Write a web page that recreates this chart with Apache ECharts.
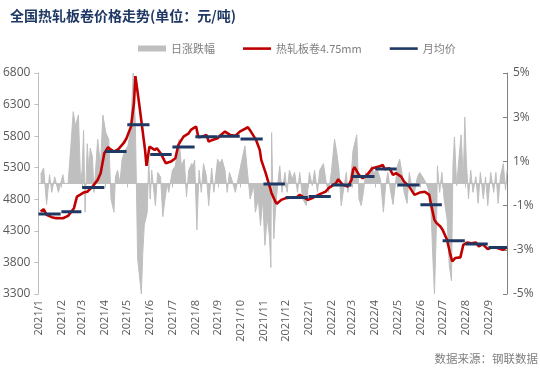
<!DOCTYPE html>
<html><head><meta charset="utf-8">
<script src="https://cdn.jsdelivr.net/npm/echarts@6/dist/echarts.min.js"></script>
<style>html,body{margin:0;padding:0;background:#fff}#c{width:540px;height:383px}</style>
</head><body><div id="c"></div>
<script>
// ---- data ----
const priceDates = ['2021-01-04','2021-01-08','2021-01-12','2021-01-19','2021-01-25','2021-02-03','2021-02-10','2021-02-18','2021-02-22','2021-02-26',
'2021-03-03','2021-03-08','2021-03-15','2021-03-22','2021-03-26','2021-03-31','2021-04-05','2021-04-08','2021-04-13','2021-04-19','2021-04-26','2021-04-30',
'2021-05-06','2021-05-10','2021-05-12','2021-05-13','2021-05-17','2021-05-21','2021-05-25','2021-05-27','2021-05-31','2021-06-07','2021-06-10','2021-06-15','2021-06-22','2021-06-29',
'2021-07-05','2021-07-09','2021-07-16','2021-07-23','2021-07-26','2021-07-30','2021-08-02','2021-08-05','2021-08-10','2021-08-16','2021-08-19','2021-08-24','2021-08-31',
'2021-09-06','2021-09-10','2021-09-17','2021-09-24','2021-09-30','2021-10-11','2021-10-15','2021-10-22','2021-10-27','2021-10-29','2021-11-04','2021-11-08','2021-11-12','2021-11-17','2021-11-19','2021-11-25',
'2021-12-01','2021-12-08','2021-12-15','2021-12-20','2021-12-27','2021-12-31','2022-01-07','2022-01-17','2022-01-24','2022-01-28','2022-02-07','2022-02-10','2022-02-16','2022-02-23','2022-02-28',
'2022-03-02','2022-03-04','2022-03-10','2022-03-15','2022-03-21','2022-03-28','2022-04-06','2022-04-11','2022-04-14','2022-04-20','2022-04-25','2022-04-29',
'2022-05-06','2022-05-10','2022-05-17','2022-05-24','2022-05-31','2022-06-07','2022-06-13','2022-06-15','2022-06-20','2022-06-23','2022-06-28',
'2022-07-01','2022-07-07','2022-07-11','2022-07-14','2022-07-18','2022-07-25','2022-07-29','2022-08-03','2022-08-09','2022-08-15','2022-08-19','2022-08-24','2022-08-31',
'2022-09-06','2022-09-13','2022-09-20','2022-09-26'];
const priceValues = [4606,4643,4554,4517,4501,4500,4538,4659,4843,4870,
4906,4920,5001,5107,5213,5530,5624,5593,5555,5593,5688,5767,
5951,6320,6750,6663,6320,5950,5582,5329,5634,5582,5609,5530,5371,5397,
5450,5661,5792,5845,5900,5930,5951,5783,5790,5819,5713,5740,5767,
5835,5872,5819,5805,5872,5941,5872,5740,5582,5424,5213,5055,4897,4764,4728,4791,
4818,4830,4825,4870,4818,4791,4825,4886,4922,4976,5055,5118,5028,5001,5107,
5265,5308,5186,5134,5186,5292,5318,5345,5276,5292,5186,5213,
5160,5080,5001,4870,4906,4920,4870,4739,4474,4422,4368,
4316,4158,3948,3815,3869,3880,4079,4115,4105,4115,4052,4090,4010,
4040,4030,4000,4040];

const changeDates = ['2021-01-04','2021-01-08','2021-01-12','2021-01-14','2021-01-16','2021-01-19','2021-01-23','2021-01-28','2021-02-03','2021-02-05','2021-02-10','2021-02-12','2021-02-14','2021-02-17','2021-02-20','2021-02-24','2021-02-27',
'2021-03-01','2021-03-03','2021-03-05','2021-03-08','2021-03-10','2021-03-12','2021-03-15','2021-03-17','2021-03-19','2021-03-22','2021-03-24','2021-03-26','2021-03-29',
'2021-04-02','2021-04-06','2021-04-07','2021-04-09','2021-04-13','2021-04-15','2021-04-18','2021-04-21','2021-04-24','2021-04-28',
'2021-05-02','2021-05-06','2021-05-09','2021-05-11','2021-05-12','2021-05-15','2021-05-17','2021-05-20','2021-05-22','2021-05-24','2021-05-28','2021-05-30',
'2021-06-01','2021-06-03','2021-06-08','2021-06-11','2021-06-15','2021-06-18','2021-06-21','2021-06-24','2021-06-26',
'2021-07-01','2021-07-05','2021-07-10','2021-07-13','2021-07-17','2021-07-20','2021-07-23','2021-07-27','2021-07-29','2021-07-31',
'2021-08-03','2021-08-06','2021-08-09','2021-08-12','2021-08-16','2021-08-19','2021-08-23','2021-08-26','2021-08-31',
'2021-09-03','2021-09-06','2021-09-10','2021-09-13','2021-09-16','2021-09-19','2021-09-24','2021-09-27','2021-09-30',
'2021-10-05','2021-10-07','2021-10-11','2021-10-14','2021-10-19','2021-10-21','2021-10-25','2021-10-28','2021-10-31',
'2021-11-03','2021-11-06','2021-11-09','2021-11-11','2021-11-12','2021-11-15','2021-11-17','2021-11-20','2021-11-23','2021-11-26','2021-11-30',
'2021-12-03','2021-12-06','2021-12-10','2021-12-13','2021-12-17','2021-12-20','2021-12-24','2021-12-29',
'2022-01-02','2022-01-06','2022-01-09','2022-01-13','2022-01-16','2022-01-21','2022-01-25','2022-01-28',
'2022-02-01','2022-02-05','2022-02-08','2022-02-11','2022-02-14','2022-02-18','2022-02-21','2022-02-23','2022-02-28',
'2022-03-02','2022-03-07','2022-03-10','2022-03-13','2022-03-16','2022-03-19','2022-03-23','2022-03-27','2022-03-30',
'2022-04-04','2022-04-08','2022-04-12','2022-04-15','2022-04-18','2022-04-22','2022-04-25','2022-04-28',
'2022-05-01','2022-05-04','2022-05-07','2022-05-10','2022-05-14','2022-05-17','2022-05-20','2022-05-24','2022-05-28','2022-05-31',
'2022-06-04','2022-06-09','2022-06-12','2022-06-15','2022-06-18','2022-06-20','2022-06-23','2022-06-24','2022-06-27','2022-06-30',
'2022-07-03','2022-07-07','2022-07-10','2022-07-13','2022-07-15','2022-07-17','2022-07-20','2022-07-23','2022-07-26','2022-07-29','2022-07-31',
'2022-08-02','2022-08-05','2022-08-08','2022-08-11','2022-08-15','2022-08-18','2022-08-21','2022-08-25','2022-08-28','2022-08-31',
'2022-09-04','2022-09-08','2022-09-11','2022-09-14','2022-09-17','2022-09-21','2022-09-24','2022-09-26'];
const changeValues = [0.4,0.7,-0.95,-0.27,0.4,-0.4,0.3,-0.4,0.4,0,0,0,1.8,3.25,2.6,3.1,0,
0.6,2.4,-1.3,1.8,0.6,1.6,1.2,-0.4,0.5,2.0,1.4,0.9,3.1,
2.3,2.0,1.1,-0.7,-1.3,0.3,0.6,0,1.1,1.5,
1.7,2.6,5.0,5.0,2.6,-3.4,-3.4,-5.0,-3.1,-1.9,-1.3,1.1,
-0.7,0.6,-1.0,0.5,0.3,-1.5,-0.7,0,-0.4,
0.6,0.8,2.0,0.8,1.1,-0.6,0.6,0.9,0.8,1.06,
-2.1,0.6,-0.4,0.9,0.3,-1.0,0.7,-0.4,1.1,
0.9,1.1,0.6,-0.4,0.5,0.2,-0.4,0.1,0.6,
1.4,1.7,0.3,-0.7,-0.1,-1.3,-0.7,-1.9,-0.7,
-2.8,-1.5,-2.4,-3.8,2.3,-2.5,-1.3,-0.1,0.8,-0.4,0.5,
-0.4,0.6,0.2,0.5,-0.4,0.5,-0.7,-1.0,
0.5,-0.1,0.6,-0.4,0.6,0.9,0,-0.4,
0.6,2.0,1.4,0.6,-1.0,-0.1,0.5,-0.4,0.6,
1.5,2.2,-0.7,-1.0,-0.4,0.5,0.3,0.8,0.5,
0.6,0.2,-1.3,-0.1,0.5,-0.4,-0.95,-0.1,
0.8,1.1,0.5,-0.4,-0.9,0.5,-0.1,-0.4,0.3,0.5,
0.3,0,-0.3,-0.9,-3.5,-5.0,-1.5,0.8,-0.4,0.5,
-0.7,-1.6,-3.7,-4.4,0.8,2.1,-0.1,1.1,2.2,0.2,3.0,
1.1,-0.7,0.6,-0.4,0.3,-0.9,0.5,-0.7,0.3,-1.0,
0.5,-0.4,0.5,-0.9,0.3,0.9,-0.3,0.6];

const monthKeys = ['2021-01','2021-02','2021-03','2021-04','2021-05','2021-06','2021-07','2021-08','2021-09','2021-10','2021-11','2021-12',
'2022-01','2022-02','2022-03','2022-04','2022-05','2022-06','2022-07','2022-08','2022-09'];
const monthAvg = [4565,4601,4986,5555,5982,5508,5629,5792,5800,5756,5044,4830,
4845,5028,5160,5281,5028,4712,4142,4090,4037];

const axisStart = '2021-01-01';
const axisEnd = '2022-09-26';
const priceMin = 3300, priceMax = 6800, priceStep = 500;
const pctMin = -5, pctMax = 5, pctStep = 2;

const seriesNames = ['日涨跌幅','热轧板卷4.75mm','月均价'];
const titleText = '全国热轧板卷价格走势(单位：元/吨)';
const sourceText = '数据来源：钢联数据';

// ---- build ----
const pad = n => (n < 10 ? '0' : '') + n;
const avgData = [];
monthKeys.forEach((k, i) => {
  const [y, m] = k.split('-').map(Number);
  const last = new Date(y, m, 0).getDate();
  let end = k + '-' + pad(last);
  if (end > axisEnd) end = axisEnd;
  avgData.push([k + '-01', monthAvg[i]]);
  avgData.push([end, monthAvg[i]]);
  avgData.push([end, '-']);
});

const CJK = '"Noto Sans CJK SC", "Noto Sans", sans-serif';
const NUM = '"Open Sans", "Noto Sans", sans-serif';
const lineIcon = 'path://M0,0M0,6M0,1.8L28,1.8L28,4.4L0,4.4Z';

const chart = echarts.init(document.getElementById('c'), null, {renderer: 'canvas'});
chart.setOption({
  animation: false,
  backgroundColor: '#ffffff',
  title: {
    text: titleText, left: 5, top: 4,
    textStyle: {fontFamily: CJK, fontSize: 14, fontWeight: 'bold', color: '#1F3864'}
  },
  legend: {
    left: 133, top: 38, itemWidth: 28, itemHeight: 6, itemGap: 28,
    textStyle: {fontFamily: CJK, fontSize: 11, color: '#7F7F7F'},
    data: [
      {name: seriesNames[0], icon: 'rect', itemStyle: {color: '#BFBFBF', borderWidth: 0}},
      {name: seriesNames[1], icon: lineIcon, itemStyle: {color: '#C00000', borderWidth: 0}},
      {name: seriesNames[2], icon: lineIcon, itemStyle: {color: '#1F3864', borderWidth: 0}}
    ]
  },
  grid: {left: 36, right: 33, top: 73, bottom: 89},
  xAxis: {
    type: 'time', min: axisStart, max: axisEnd,
    minInterval: 28 * 86400000, maxInterval: 31 * 86400000,
    splitLine: {show: false},
    axisLine: {lineStyle: {color: '#BFBFBF'}},
    axisTick: {show: true, length: 4, lineStyle: {color: '#BFBFBF'}},
    axisLabel: {
      rotate: 90, margin: 6, fontSize: 11, fontFamily: NUM, color: '#595959',
      showMaxLabel: false,
      formatter: v => { const d = new Date(v); return d.getFullYear() + '/' + (d.getMonth() + 1); }
    }
  },
  yAxis: [
    {
      type: 'value', min: priceMin, max: priceMax, interval: priceStep,
      splitLine: {show: false},
      axisLine: {show: true, lineStyle: {color: '#BFBFBF'}},
      axisTick: {show: true, length: 4, lineStyle: {color: '#BFBFBF'}},
      axisLabel: {fontSize: 12, fontFamily: NUM, color: '#595959', margin: 8, formatter: v => String(v)}
    },
    {
      type: 'value', position: 'right', min: pctMin, max: pctMax, interval: pctStep,
      splitLine: {show: false},
      axisLine: {show: true, lineStyle: {color: '#808080'}},
      axisTick: {show: true, inside: true, length: 4, lineStyle: {color: '#808080'}},
      axisLabel: {fontSize: 12, fontFamily: NUM, color: '#595959', margin: 6, formatter: '{value}%'}
    }
  ],
  series: [
    {
      name: seriesNames[0], type: 'line', yAxisIndex: 1, symbol: 'none', z: 1,
      data: changeDates.map((d, i) => [d, changeValues[i]]),
      lineStyle: {width: 1, color: '#BFBFBF'},
      itemStyle: {color: '#BFBFBF'},
      areaStyle: {color: '#BFBFBF', opacity: 1, origin: 'auto'}
    },
    {
      name: seriesNames[1], type: 'line', yAxisIndex: 0, symbol: 'none', z: 3,
      data: priceDates.map((d, i) => [d, priceValues[i]]),
      lineStyle: {width: 2.6, color: '#C00000'},
      itemStyle: {color: '#C00000'}
    },
    {
      name: seriesNames[2], type: 'line', yAxisIndex: 0, symbol: 'none', z: 4,
      connectNulls: false,
      data: avgData,
      lineStyle: {width: 3, color: '#1F3864'},
      itemStyle: {color: '#1F3864'}
    }
  ],
  graphic: [{
    type: 'text', right: 2, top: 353,
    style: {text: sourceText, fontFamily: CJK, fontSize: 11.5, fill: '#7F7F7F'}
  }]
});
</script>
</body></html>
